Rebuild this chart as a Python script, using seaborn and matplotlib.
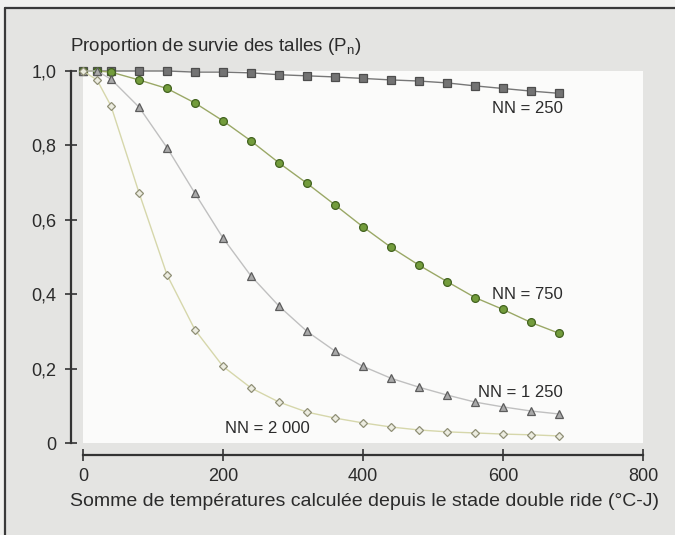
import matplotlib
matplotlib.use("Agg")
import matplotlib.pyplot as plt
import seaborn as sns
import pandas as pd
from matplotlib.patches import Rectangle
from matplotlib.lines import Line2D

# ---- data ----
x_vals = [0, 20, 40, 80, 120, 160, 200, 240, 280, 320, 360, 400, 440, 480, 520, 560, 600, 640, 680]
nn250 = [1.0, 1.0, 1.0, 1.0, 1.0, 0.997, 0.997, 0.995, 0.990, 0.987, 0.984, 0.980, 0.976, 0.973, 0.968, 0.960, 0.953, 0.946, 0.940]
nn750 = [1.0, 1.0, 0.997, 0.976, 0.953, 0.914, 0.866, 0.812, 0.753, 0.698, 0.640, 0.581, 0.526, 0.478, 0.434, 0.391, 0.359, 0.324, 0.295]
nn1250 = [1.0, 1.0, 0.978, 0.903, 0.794, 0.671, 0.551, 0.449, 0.368, 0.300, 0.247, 0.206, 0.174, 0.150, 0.129, 0.110, 0.097, 0.086, 0.078]
nn2000 = [1.0, 0.976, 0.906, 0.673, 0.452, 0.304, 0.206, 0.148, 0.110, 0.083, 0.067, 0.054, 0.043, 0.035, 0.030, 0.027, 0.024, 0.022, 0.019]

series_names = ["NN = 250", "NN = 750", "NN = 1 250", "NN = 2 000"]
series_values = [nn250, nn750, nn1250, nn2000]

y_ticks = [0, 0.2, 0.4, 0.6, 0.8, 1.0]
y_tick_labels = ["0", "0,2", "0,4", "0,6", "0,8", "1,0"]
x_ticks = [0, 200, 400, 600, 800]
x_tick_labels = ["0", "200", "400", "600", "800"]

y_title = "Proportion de survie des talles (P$_\\mathregular{n}$)"
x_title = "Somme de températures calculée depuis le stade double ride (°C-J)"

# ---- styles ----
styles = {
    "NN = 250":   dict(line="#777777", marker="s", mfc="#737373", mec="#4d4d4d", ms=5.4),
    "NN = 750":   dict(line="#9aa866", marker="o", mfc="#739c3c", mec="#42621f", ms=5.6),
    "NN = 1 250": dict(line="#c0c0c0", marker="^", mfc="#a9a9a9", mec="#5c5c5c", ms=5.4),
    "NN = 2 000": dict(line="#d6d7ab", marker="D", mfc="#ecece0", mec="#8f8f76", ms=3.9),
}
label_pos = {
    "NN = 250": (686, 0.898, "right"),
    "NN = 750": (686, 0.400, "right"),
    "NN = 1 250": (686, 0.137, "right"),
    "NN = 2 000": (263, 0.040, "center"),
}

sns.set_theme(style="ticks")
plt.rcParams["font.family"] = ["Liberation Sans", "DejaVu Sans"]
plt.rcParams["mathtext.fontset"] = "custom"
plt.rcParams["mathtext.rm"] = "Liberation Sans"
plt.rcParams["mathtext.it"] = "Liberation Sans"

W, H = 675, 535
fig = plt.figure(figsize=(W / 100, H / 100), dpi=100, facecolor="#f1f1ef")

# outer gray panel with top/left border
fig.patches.append(Rectangle((5 / W, 0), 1, 1 - 8 / H, transform=fig.transFigure,
                             facecolor="#e4e4e2", edgecolor="none", zorder=-10))
fig.lines.append(Line2D([5 / W, 1], [1 - 8 / H, 1 - 8 / H], transform=fig.transFigure,
                        color="#3a3a3a", lw=1.6, zorder=-9))
fig.lines.append(Line2D([5 / W, 5 / W], [0, 1 - 8 / H], transform=fig.transFigure,
                        color="#3a3a3a", lw=1.6, zorder=-9))

ax = fig.add_axes([83 / W, (H - 443) / H, 560 / W, 372 / H])
ax.set_zorder(1)
ax.set_facecolor("#fbfbfa")

rows = []
for name, vals in zip(series_names, series_values):
    for xv, yv in zip(x_vals, vals):
        rows.append({"x": xv, "y": yv, "serie": name})
df = pd.DataFrame(rows)

for name in series_names:
    st = styles[name]
    sub = df[df["serie"] == name]
    sns.lineplot(data=sub, x="x", y="y", ax=ax, color=st["line"], lw=1.0,
                 marker=st["marker"], markersize=st["ms"], markerfacecolor=st["mfc"],
                 markeredgecolor=st["mec"], markeredgewidth=0.9, clip_on=False,
                 legend=False)

txt_color = "#2b2b2b"
fs = 13.5
for name in series_names:
    px, py, ha = label_pos[name]
    ax.text(px, py, name, ha=ha, va="center", fontsize=12, color=txt_color)

ax.set_xlim(0, 800)
ax.set_ylim(0, 1)
ax.set_xticks(x_ticks)
ax.set_xticklabels(x_tick_labels)
ax.set_yticks(y_ticks)
ax.set_yticklabels(y_tick_labels)
ax.set_xlabel("")
ax.set_ylabel("")

sns.despine(ax=ax, offset=8.6)
for side in ["left", "bottom"]:
    ax.spines[side].set_color("#333333")
    ax.spines[side].set_linewidth(1.6)
    ax.spines[side].set_zorder(5)
ax.spines["left"].set_bounds(0, 1)
ax.spines["bottom"].set_bounds(0, 800)

ax.tick_params(axis="both", which="major", direction="inout", length=9, width=1.2,
               color="#333333", labelsize=13, labelcolor=txt_color,
               left=True, bottom=True)
ax.tick_params(axis="y", pad=6)
ax.tick_params(axis="x", pad=5)

fig.text(70 / W, 1 - 47 / H, y_title, ha="left", va="center", fontsize=fs, color=txt_color)
fig.text(365 / W, 1 - 501 / H, x_title, ha="center", va="center", fontsize=14, color=txt_color)

fig.savefig("out.png", dpi=100, facecolor=fig.get_facecolor())
